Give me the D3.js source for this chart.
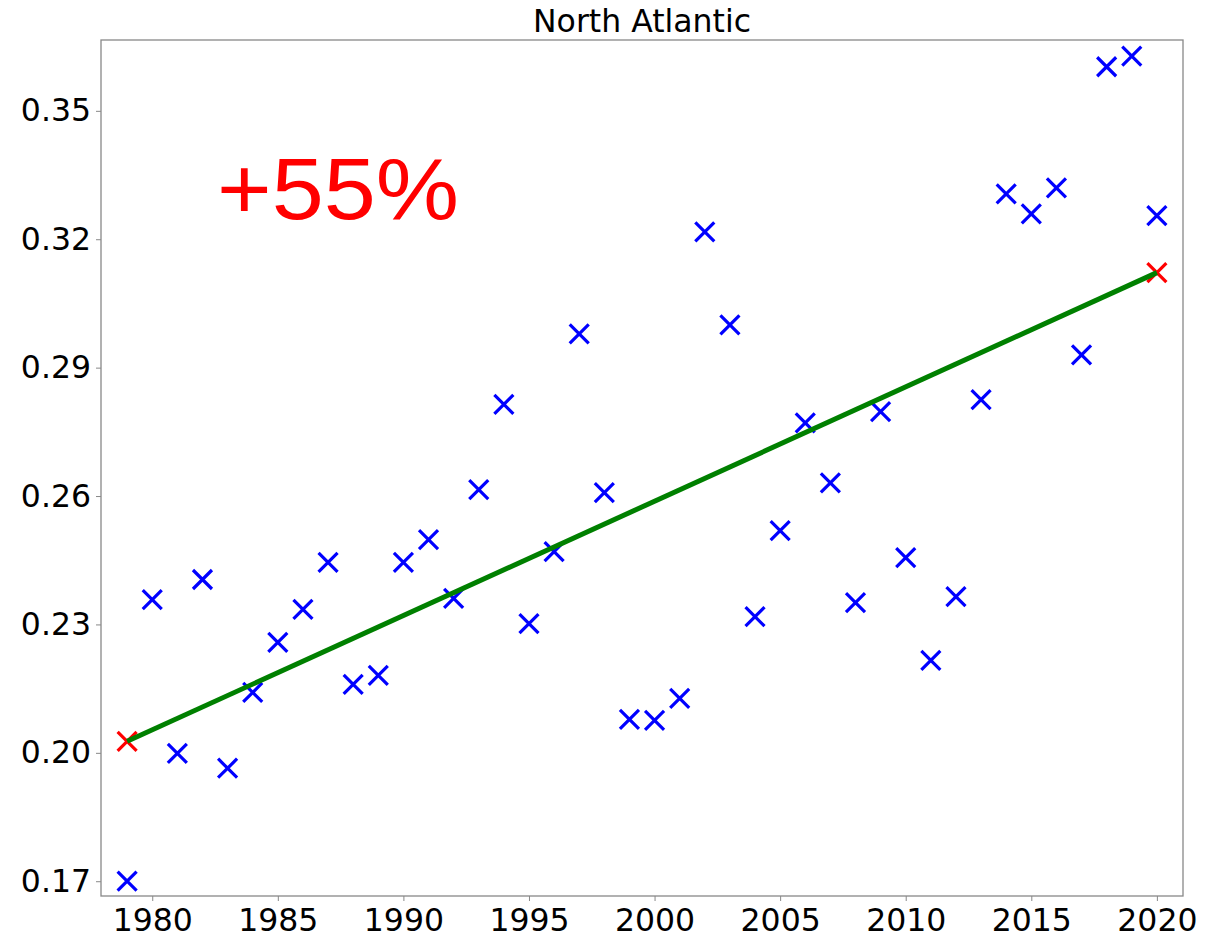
<!DOCTYPE html>
<html><head><meta charset="utf-8">
<script src="https://cdn.jsdelivr.net/npm/d3@7"></script>
<style>body{margin:0;background:#fff}</style>
</head><body>
<script>
const years = d3.range(1979, 2021);
const values = [0.1700,0.2358,0.1999,0.2405,0.1964,0.2141,0.2258,0.2335,0.2445,0.2160,
0.2181,0.2445,0.2498,0.2361,0.2615,0.2814,0.2302,0.2470,0.2979,0.2608,
0.2078,0.2076,0.2127,0.3217,0.3000,0.2318,0.2519,0.2771,0.2631,0.2351,
0.2797,0.2456,0.2216,0.2365,0.2825,0.3306,0.3259,0.3320,0.2930,0.3603,
0.3628,0.3255];
const trendYears = [1979, 2020];
const trendValues = [0.2027, 0.3122];
const yTicks = [0.17,0.20,0.23,0.26,0.29,0.32,0.35];
const xTicks = [1980,1985,1990,1995,2000,2005,2010,2015,2020];
const title = "North Atlantic";
const annotation = "+55%";

const W=1211,H=937;
const L=101,R=1183,T=40,B=896;
const svg=d3.select("body").append("svg").attr("width",W).attr("height",H);
const x=d3.scaleLinear().domain([1977.96,2021.04]).range([L,R]);
const y=d3.scaleLinear().domain([0.16655,0.36655]).range([B,T]);

const font="'DejaVu Sans', sans-serif";
const xa=svg.append("g").attr("transform",`translate(0,${B})`)
 .call(d3.axisBottom(x).tickValues(xTicks).tickFormat(d3.format("d")).tickSize(5).tickPadding(6));
const ya=svg.append("g").attr("transform",`translate(${L},0)`)
 .call(d3.axisLeft(y).tickValues(yTicks).tickFormat(d3.format(".2f")).tickSize(5).tickPadding(5));
[xa,ya].forEach(a=>{a.select(".domain").remove();
 a.selectAll("line").attr("stroke","#888").attr("stroke-width",1);
 a.selectAll("text").attr("font-family",font).attr("font-size",31.5).attr("fill","#000");});
xa.selectAll("text").attr("dy","0.75em");

svg.append("rect").attr("x",L).attr("y",T).attr("width",R-L).attr("height",B-T)
 .attr("fill","none").attr("stroke","#888").attr("stroke-width",1.3);

svg.append("text").attr("x",(L+R)/2).attr("y",32).attr("text-anchor","middle")
 .attr("font-family",font).attr("font-size",31.5).attr("fill","#000").text(title);

svg.append("text").attr("x",217).attr("y",219).attr("font-family","'Liberation Sans', Arial, sans-serif")
 .attr("font-size",88).attr("fill","#ff0000")
 .attr("textLength",242).attr("lengthAdjust","spacingAndGlyphs").text(annotation);

function cross(g,cx,cy,color){
 const s=9.5;
 g.append("path").attr("d",`M${cx-s},${cy-s}L${cx+s},${cy+s}M${cx-s},${cy+s}L${cx+s},${cy-s}`)
  .attr("stroke",color).attr("stroke-width",3.2).attr("fill","none");
}
const gp=svg.append("g");
years.forEach((yr,i)=>cross(gp,x(yr),y(values[i]),"#0000ff"));

trendYears.forEach((yr,i)=>cross(svg,x(yr),y(trendValues[i]),"#ff0000"));
svg.append("path").datum(trendYears.map((d,i)=>[d,trendValues[i]]))
 .attr("d",d3.line().x(d=>x(d[0])).y(d=>y(d[1])))
 .attr("stroke","#008000").attr("stroke-width",5).attr("fill","none");
</script>
</body></html>
